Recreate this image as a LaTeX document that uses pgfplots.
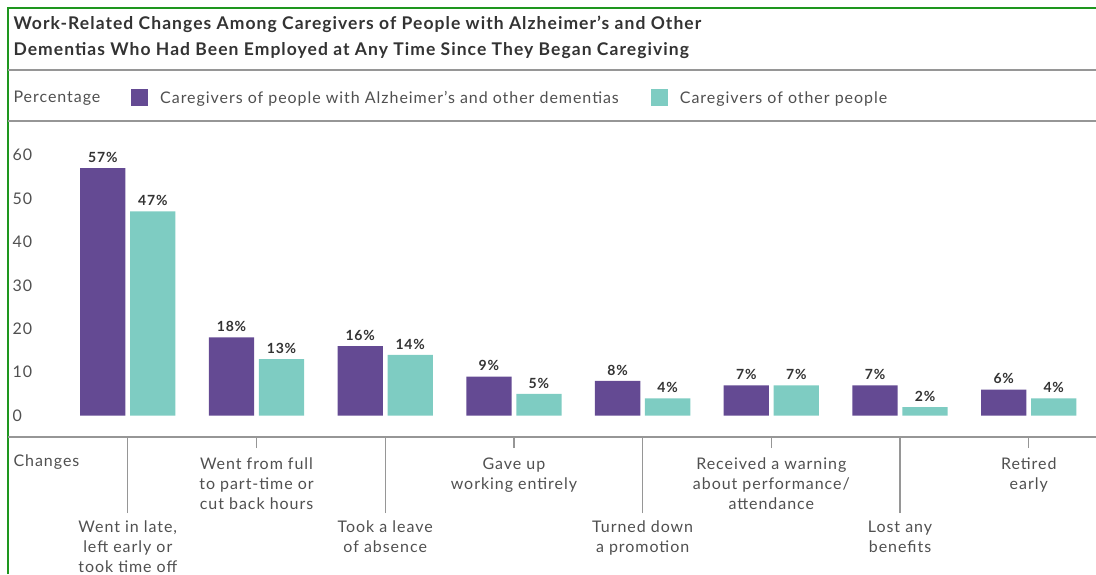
\documentclass[border=0pt]{standalone}
\usepackage{fontspec}
\setmainfont{Lato}[LetterSpace=6]
\usepackage{pgfplots}
\pgfplotsset{compat=1.18}

\definecolor{alzpurple}{RGB}{100,74,147}
\definecolor{otherteal}{RGB}{126,204,194}
\definecolor{rulegray}{RGB}{150,150,150}
\definecolor{ink}{RGB}{51,51,51}
\definecolor{labelgray}{RGB}{80,80,80}
\definecolor{framegreen}{RGB}{30,150,30}

\newcommand{\lblfont}{\fontsize{16}{20}\selectfont}

\begin{document}
\begin{tikzpicture}[x=1pt,y=1pt]
\path[use as bounding box] (0pt,0pt) rectangle (1096pt,-574pt);
\draw[framegreen, line width=1.5pt] (8pt,-574pt) -- (8pt,-8pt) -- (1096pt,-8pt);

% title and rules
\node[anchor=west, align=left, text=ink, font=\fontsize{17.5}{26}\selectfont\bfseries]
  at (10pt,-37pt) {Work-Related Changes Among Caregivers of People with Alzheimer's and Other\\
  Dementias Who Had Been Employed at Any Time Since They Began Caregiving};
\draw[rulegray, line width=1.5pt] (8pt,-70pt) -- (1096pt,-70pt);
\draw[rulegray, line width=1.5pt] (8pt,-121pt) -- (1096pt,-121pt);
\node[anchor=west, text=labelgray, font=\lblfont] at (10pt,-98pt) {Percentage};
\node[anchor=west, text=labelgray, font=\lblfont] at (10pt,-462pt) {Changes};

\begin{axis}[
  at={(8pt,-437pt)}, anchor=south west,
  scale only axis, width=1088pt, height=290.7pt,
  xmin=-0.9308, xmax=7.5229, ymin=-4.9, ymax=62,
  ybar, bar width=45.3pt,
  axis x line*=bottom, axis y line*=left,
  x axis line style={rulegray, line width=1.5pt, -},
  y axis line style={draw=none},
  /pgf/number format/assume math mode=true,
  ytick={0,10,...,60}, ytick style={draw=none},
  yticklabel style={anchor=west, xshift=12pt, text=labelgray, font=\lblfont},
  tick align=outside,
  xtick={1,3,5,7},
  xticklabels={{Went from full\\to part-time or\\cut back hours},
               {Gave up\\working entirely},
               {Received a warning\\about performance/\\attendance},
               {Retired\\early}},
  major tick length=11pt,
  xtick style={rulegray, line width=1.2pt},
  xticklabel style={align=center, anchor=north, text=labelgray, font=\lblfont, yshift=-6pt},
  extra x ticks={0,2,4,6},
  extra x tick labels={{Went in late,\\left early or\\took time off},
                       {Took a leave\\of absence},
                       {Turned down\\a promotion},
                       {Lost any\\benefits}},
  extra x tick style={major tick length=76pt, xticklabel style={yshift=2pt}},
  clip=false,
  nodes near coords={\pgfmathprintnumber{\pgfplotspointmeta}\%},
  every node near coord/.append style={text=ink, yshift=2pt, font=\fontsize{14}{16}\selectfont\bfseries},
  legend columns=2,
  legend style={at={(axis description cs:0.1103,1.1662)}, anchor=west, draw=none, fill=none,
    text=labelgray, font=\lblfont,
    /tikz/every odd column/.append style={column sep=10pt},
    /tikz/every even column/.append style={column sep=30pt}},
  legend image code/.code={\fill[#1] (0pt,-8.5pt) rectangle (17pt,8.5pt);},
]
\addplot[fill=alzpurple, draw=none, bar shift=-25pt] coordinates {
  (0,57) (1,18) (2,16) (3,9) (4,8) (5,7) (6,7) (7,6)};
\addlegendentry{Caregivers of people with Alzheimer's and other dementias}
\addplot[fill=otherteal, draw=none, bar shift=25pt] coordinates {
  (0,47) (1,13) (2,14) (3,5) (4,4) (5,7) (6,2) (7,4)};
\addlegendentry{Caregivers of other people}
\end{axis}
\end{tikzpicture}
\end{document}
